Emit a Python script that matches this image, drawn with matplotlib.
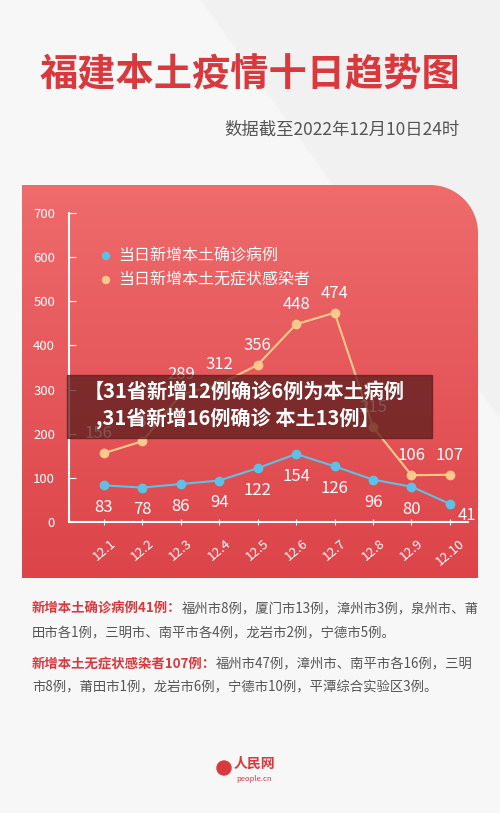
import numpy as np
import matplotlib.pyplot as plt
from matplotlib.patches import Polygon, Rectangle, Circle

plt.rcParams['font.family'] = ['Noto Sans CJK SC', 'DejaVu Sans']

# data
dates = ['12.1', '12.2', '12.3', '12.4', '12.5', '12.6', '12.7', '12.8', '12.9', '12.10']
confirmed = [83, 78, 86, 94, 122, 154, 126, 96, 80, 41]
asymptomatic = [156, 183, 289, 312, 356, 448, 474, 215, 106, 107]
y_ticks = [0, 100, 200, 300, 400, 500, 600, 700]

W, H = 500, 813
fig = plt.figure(figsize=(W / 100, H / 100), dpi=100)
fig.patch.set_facecolor('#f1f1f2')

# background layer in pixel coords
bg = fig.add_axes([0, 0, 1, 1])
bg.set_xlim(0, W)
bg.set_ylim(H, 0)
bg.axis('off')
bg.add_patch(Polygon([[0, 0], [200, 0], [500, 420], [500, 813], [0, 813]], closed=True,
                     color='#f7f7f8', zorder=0))

# red panel with rounded top-right corner
r = 48
ang = np.linspace(np.pi / 2, 0, 20)
arc = np.column_stack([478 - r + r * np.cos(ang), 185 + r - r * np.sin(ang)])
verts = np.vstack([[[22, 578], [22, 185]], arc, [[478, 578]]])
panel = Polygon(verts, closed=True, facecolor='none', edgecolor='none')
bg.add_patch(panel)
grad = np.linspace(0, 1, 256).reshape(-1, 1)
img = bg.imshow(grad, extent=(22, 478, 578, 185), cmap=plt.matplotlib.colors.LinearSegmentedColormap.from_list(
    'p', ['#ef6b6c', '#dc4449']), aspect='auto', zorder=1)
img.set_clip_path(panel)

bg.text(250, 75, '福建本土疫情十日趋势图', color='#d9393d', fontsize=27.5, fontweight='bold',
        ha='center', va='center')
bg.text(460, 130, '数据截至2022年12月10日24时', color='#555555', fontsize=12.5,
        ha='right', va='center')

# chart axes
ax = fig.add_axes([69 / W, (H - 522) / H, (468 - 69) / W, (522 - 213) / H])
ax.patch.set_alpha(0)
x = np.arange(len(dates))
ax.set_xlim(-0.91, 9.47)
ax.set_ylim(0, 700)
for s in ['top', 'right']:
    ax.spines[s].set_visible(False)
for s in ['left', 'bottom']:
    ax.spines[s].set_color('white')
    ax.spines[s].set_linewidth(1.5)
ax.set_yticks(y_ticks)
ax.set_yticklabels([str(v) for v in y_ticks], color='white', fontstyle='italic', fontsize=9.5)
ax.tick_params(axis='y', length=5, color='white', direction='in', pad=10)
ax.set_xticks(x)
ax.set_xticklabels(dates, rotation=40, color='white', fontsize=9.5, ha='center')
ax.tick_params(axis='x', length=5, color='white', direction='inout', pad=8)

blue, orange = '#5cc1e6', '#fcc98b'
ax.plot(x, asymptomatic, color=orange, lw=1.5, marker='o', ms=6, zorder=3)
ax.plot(x, confirmed, color=blue, lw=1.5, marker='o', ms=6, zorder=3)
for i, v in enumerate(asymptomatic):
    ax.annotate(str(v), (i, v), xytext=(-4 if i == 0 else 0, 8), textcoords='offset points',
                ha='center', va='bottom', color='white', fontsize=12)
for i, v in enumerate(confirmed):
    if i == 9:
        ax.annotate(str(v), (i, v), xytext=(12, -8), textcoords='offset points',
                    ha='center', va='center', color='white', fontsize=12)
    else:
        ax.annotate(str(v), (i, v), xytext=(0, -10), textcoords='offset points',
                    ha='center', va='top', color='white', fontsize=12)

# legend
bg.add_patch(Circle((106, 256), 3.5, color=blue, zorder=5))
bg.add_patch(Circle((106, 280), 3.5, color=orange, zorder=5))
bg.text(118, 256, '当日新增本土确诊病例', color='white', fontsize=11.5, va='center', zorder=5)
bg.text(118, 280, '当日新增本土无症状感染者', color='white', fontsize=11.5, va='center', zorder=5)

# overlay banner
ov = fig.add_axes([0, 0, 1, 1])
ov.set_xlim(0, W)
ov.set_ylim(H, 0)
ov.axis('off')
ov.patch.set_alpha(0)
ov.add_patch(Rectangle((67, 375), 365, 63, color='#5a1c1c', alpha=0.75))
ov.text(84, 391, '【31省新增12例确诊6例为本土病例', color='white', fontsize=14.5,
        fontweight='bold', va='center')
ov.text(96, 418, ',31省新增16例确诊 本土13例】', color='white', fontsize=14.5,
        fontweight='bold', va='center')

# notes
notes = [
    (609, '新增本土确诊病例41例：', '福州市8例，厦门市13例，漳州市3例，泉州市、莆'),
    (664, '新增本土无症状感染者107例：', '福州市47例，漳州市、南平市各16例，三明'),
]
for y, head, rest in notes:
    t = ov.text(32, y, head, color='#d9393d', fontsize=9.6, fontweight='bold', va='center')
    ov.annotate(rest, xy=(1, 0.5), xycoords=t, va='center', ha='left',
                color='#555555', fontsize=9.6)
ov.text(32, 632, '田市各1例，三明市、南平市各4例，龙岩市2例，宁德市5例。', color='#555555',
        fontsize=9.6, va='center')
ov.text(32, 687, '市8例，莆田市1例，龙岩市6例，宁德市10例，平潭综合实验区3例。', color='#555555',
        fontsize=9.6, va='center')

# logo
ov.add_patch(Circle((224, 768), 7, color='#d9393d'))
ov.text(234, 764, '人民网', color='#d9393d', fontsize=10, fontweight='bold', va='center')
ov.text(236, 779, 'people.cn', color='#d9393d', fontsize=5.5, va='center')

fig.savefig('out.png', dpi=100)
